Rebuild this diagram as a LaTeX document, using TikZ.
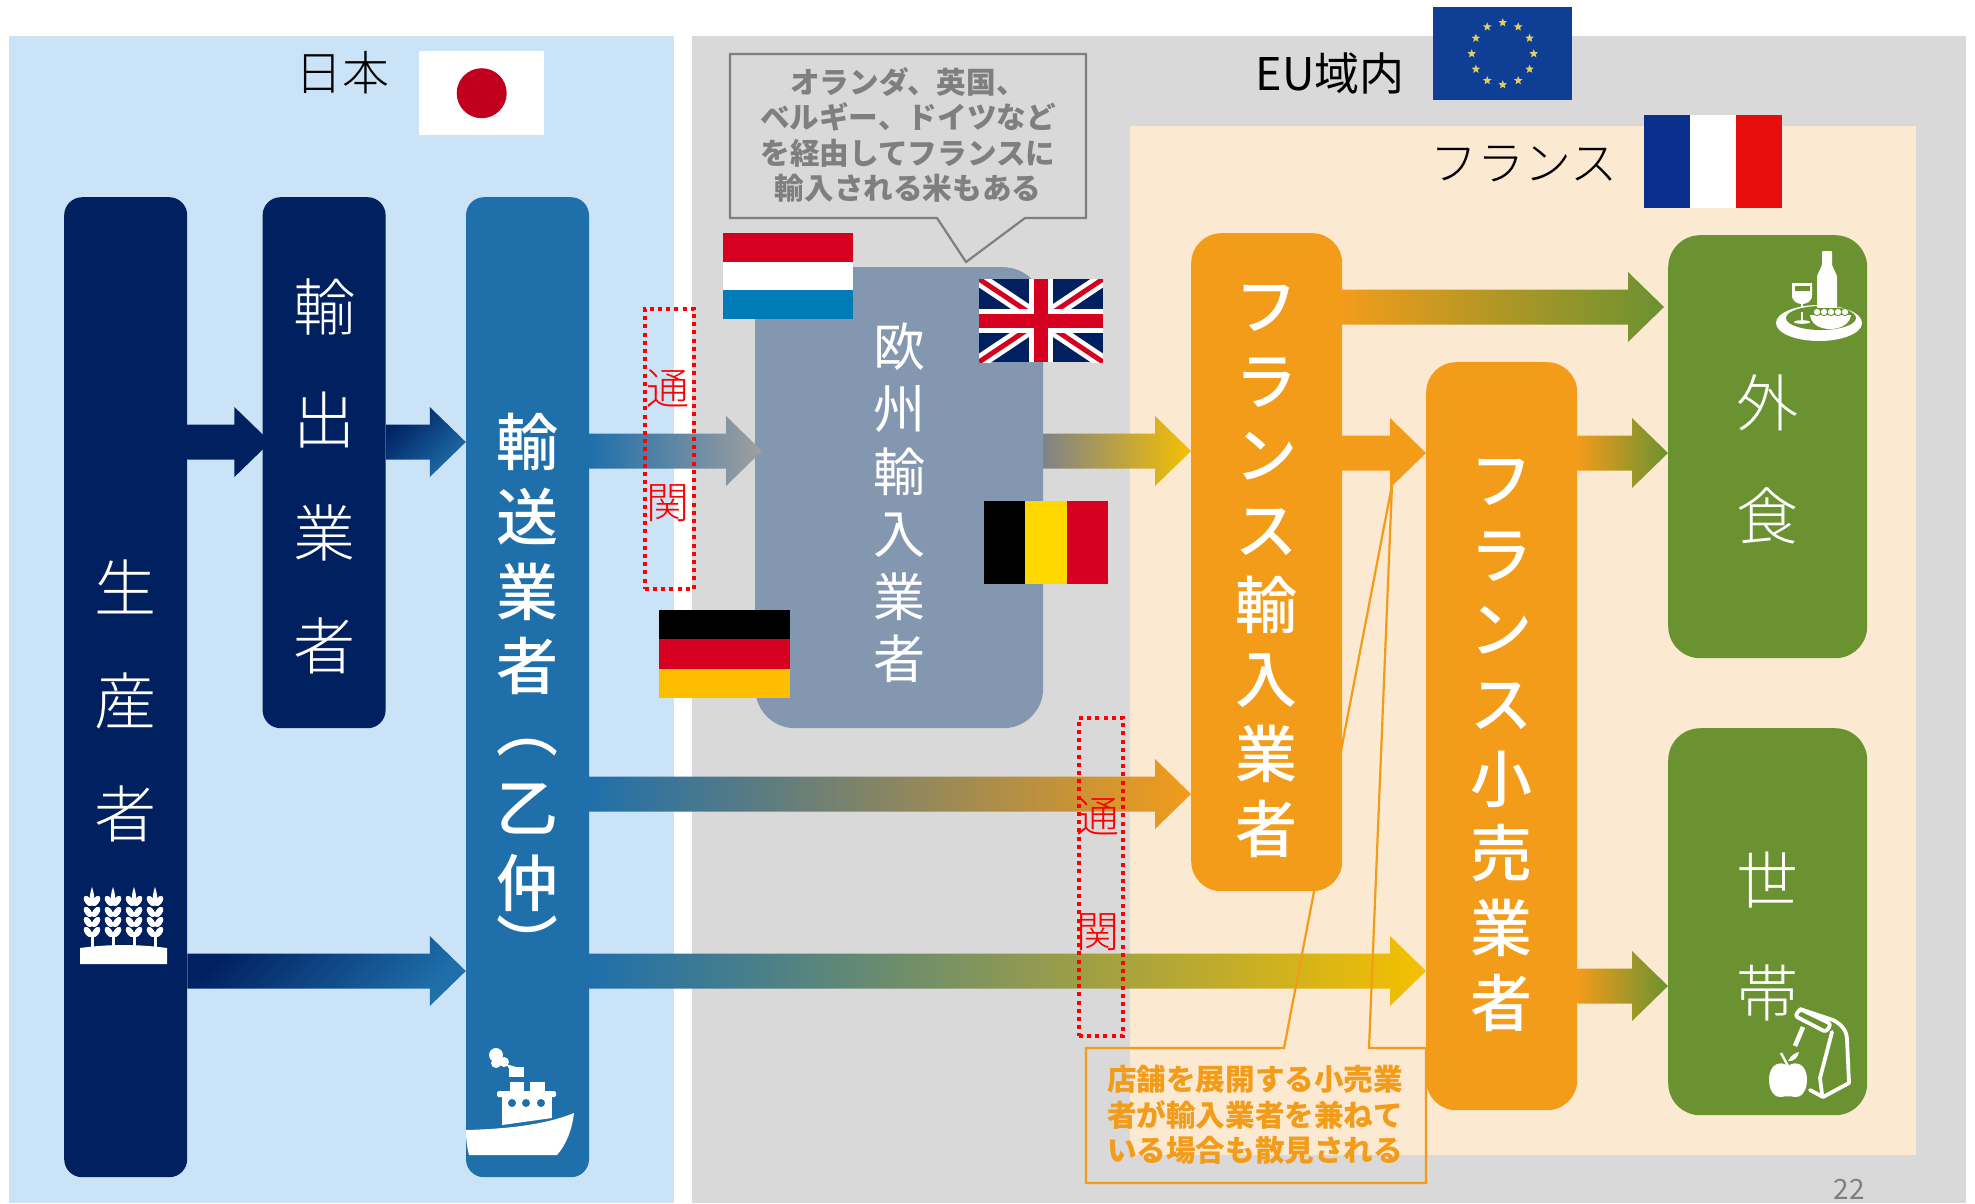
\documentclass[tikz,border=0pt]{standalone}
\usepackage{fontspec}
\setmainfont{Noto Sans CJK JP}
\newfontfamily\lightFont{Noto Sans CJK JP Light}
\newfontfamily\mediumFont{Noto Sans CJK JP Medium}
\usepackage{xcolor}
\definecolor{japanBg}{HTML}{CBE3F6}
\definecolor{euBg}{HTML}{D9D9D9}
\definecolor{franceBg}{HTML}{FCE9D2}
\definecolor{navyDark}{HTML}{002060}
\definecolor{seaBlue}{HTML}{1F6FAB}
\definecolor{slateBlue}{HTML}{8497B0}
\definecolor{orangeMain}{HTML}{F29C1A}
\definecolor{yellowEnd}{HTML}{F5C000}
\definecolor{greenMain}{HTML}{6A9231}
\definecolor{noteGrey}{HTML}{7F7F7F}
\definecolor{flagRed}{HTML}{D60021}
\definecolor{flagBlue}{HTML}{0A2F8C}
\definecolor{flagGold}{HTML}{FFD800}
\definecolor{flagSky}{HTML}{007BB8}
\definecolor{flagEuBlue}{HTML}{0F3F94}
\definecolor{flagStar}{HTML}{E0CE60}
\usetikzlibrary{shapes,arrows,positioning,calc,arrows.meta,shapes.misc,shapes.geometric}
\pgfdeclarelayer{back}
\pgfsetlayers{back,main}
\tikzset{%
  barBox/.style={%
    rectangle,
    rounded corners=18pt,
    inner sep=0pt,
    minimum width=123pt,
    anchor=north west
  },
  tateLight/.style={%
    text=white,
    align=center,
    inner sep=0pt,
    font=\lightFont\fontsize{62}{113}\selectfont
  },
  tateWide/.style={%
    text=white,
    align=center,
    inner sep=0pt,
    font=\mediumFont\fontsize{62}{74.7}\selectfont
  },
  customsBox/.style={%
    rectangle,
    draw=red,
    dash pattern=on 4pt off 4.2pt,
    line width=3.6pt,
    inner sep=0pt,
    anchor=north west
  },
  customsText/.style={%
    text=red,
    inner sep=0pt,
    font=\lightFont\fontsize{43}{43}\selectfont
  },
  noteText/.style={%
    align=center,
    inner sep=0pt,
    font=\bfseries\fontsize{29.6}{35.4}\selectfont
  },
  areaTitle/.style={%
    inner sep=0pt,
    font=\lightFont\fontsize{47}{47}\selectfont
  },
  flagBox/.style={%
    rectangle,
    inner sep=0pt,
    anchor=north west
  },
  tipShift/.store in=\tipShift,
  arrowShade/.style={}
}
% fat arrow from one box to the next at height #4
\newcommand{\flowArrow}[6][]{%
  \begin{scope}[tipShift=0, #1]
    \coordinate (arrowS) at (#2.east |- 0,#4);
    \coordinate (arrowE) at ($(#3.west |- 0,#4)+(\tipShift,0)$);
    \shade[left color=#5, right color=#6, arrowShade]
      ($(arrowS)+(0,-17.5)$) -- ($(arrowE)+(-36,-17.5)$) -- ($(arrowE)+(-36,-35)$)
      -- (arrowE) -- ($(arrowE)+(-36,35)$) -- ($(arrowE)+(-36,17.5)$)
      -- ($(arrowS)+(0,17.5)$) -- cycle;
  \end{scope}
}
\begin{document}
\begin{tikzpicture}[x=1pt,y=-1pt]
  \useasboundingbox (0,0) rectangle (1975,1203);

  % boxes
  \node[barBox, fill=navyDark, minimum height=980pt] (producer) at (64,197) {};
  \node[barBox, fill=navyDark, minimum height=531pt, right=75pt of producer.north east, anchor=north west] (exporter) {};
  \node[barBox, fill=seaBlue, minimum height=980pt, right=80pt of exporter.north east, anchor=north west] (forwarder) {};
  \node[barBox, fill=slateBlue, rounded corners=40pt, minimum width=288pt, minimum height=461pt] (euImporter) at (755,267) {};
  \node[barBox, fill=orangeMain, rounded corners=30pt, minimum width=151pt, minimum height=658pt] (frImporter) at (1191,233) {};
  \node[barBox, fill=orangeMain, rounded corners=30pt, minimum width=151pt, minimum height=748pt] (frRetailer) at (1426,362) {};
  \node[barBox, fill=greenMain, rounded corners=32pt, minimum width=199pt, minimum height=423pt] (dining) at (1668,235) {};
  \node[barBox, fill=greenMain, rounded corners=32pt, minimum width=199pt, minimum height=387pt] (household) at (1668,728) {};

  % box texts
  \node[tateLight] (producerText) at ([yshift=-14pt]producer.center) {生\\産\\者};
  \node[tateLight] (exporterText) at ([yshift=-14pt]exporter.center) {輸\\出\\業\\者};
  \node[tateWide] (forwarderText) at ([yshift=-3.2pt]forwarder.center) {輸\\送\\業\\者\\[-13pt]︵\\[5.3pt]乙\\仲\\[-13.5pt]︶};
  \node[text=white, align=center, inner sep=0pt, font=\fontsize{52}{62.5}\selectfont] (euImporterText) at ([yshift=-5pt]euImporter.center) {欧\\州\\輸\\入\\業\\者};
  \node[tateWide] (frImporterText) at ([yshift=-9pt]frImporter.center) {フ\\ラ\\ン\\ス\\輸\\入\\業\\者};
  \node[tateWide] (frRetailerText) at ([yshift=-9pt]frRetailer.center) {フ\\ラ\\ン\\ス\\小\\売\\業\\者};
  \node[tateLight] (diningText) at ([yshift=-13pt]dining.center) {外\\食};
  \node[tateLight] (householdText) at ([yshift=-15pt]household.center) {世\\帯};

  \begin{pgfonlayer}{back}
    % areas
    \fill[white] (0,0) rectangle (1975,1203);
    \fill[japanBg] (9,36) rectangle (674,1203);
    \fill[euBg] (692,36) rectangle (1966,1203);
    \fill[franceBg] (1130,126) rectangle (1916,1155);
    \flowArrow{forwarder}{frRetailer}{971}{seaBlue}{yellowEnd}
    % orange note, its wedge runs behind the importer box
    \draw[orangeMain, line width=2.2pt] (1086,1048) -- (1284,1048) -- (1392,485) -- (1369,1048)
      -- (1426,1048) -- (1426,1183) -- (1086,1183) -- cycle;
  \end{pgfonlayer}
  \node[noteText, text=orangeMain] (retailNote) at (1255,1115) {店舗を展開する小売業\\者が輸入業者を兼ねて\\いる場合も散見される};

  % arrows
  \flowArrow[tipShift=8]{producer}{exporter}{442}{navyDark}{navyDark}
  \flowArrow[arrowShade/.style={shading angle=45}]{exporter}{forwarder}{442}{navyDark}{seaBlue}
  \flowArrow[tipShift=7]{forwarder}{euImporter}{451}{seaBlue}{gray!75}
  \flowArrow{euImporter}{frImporter}{451}{gray!85!slateBlue}{yellowEnd}
  \flowArrow{forwarder}{frImporter}{794}{seaBlue}{orangeMain}
  \flowArrow[arrowShade/.style={shading angle=45}]{producer}{forwarder}{971}{navyDark}{seaBlue}
  \flowArrow[tipShift=-4]{frImporter}{dining}{307}{orangeMain}{greenMain}
  \flowArrow{frImporter}{frRetailer}{453}{orangeMain}{orangeMain}
  \flowArrow{frRetailer}{dining}{453}{orangeMain}{greenMain}
  \flowArrow{frRetailer}{household}{986}{orangeMain}{greenMain}

  % customs
  \node[customsBox, minimum width=49pt, minimum height=280pt] (customsA) at (643,307) {};
  \node[customsBox, minimum width=44pt, minimum height=318pt] (customsB) at (1077,716) {};
  \node[customsText] (customsAa) at (668,388) {通};
  \node[customsText] (customsAb) at (668,503) {関};
  \node[customsText] (customsBa) at (1098,816) {通};
  \node[customsText] (customsBb) at (1098,932) {関};

  % grey note
  \draw[noteGrey, fill=euBg, line width=2.2pt] (730,54) -- (1086,54) -- (1086,218) -- (1025,218)
    -- (966,262) -- (937,218) -- (730,218) -- cycle;
  \node[noteText, text=noteGrey] (routeNote) at (908,135) {オランダ、英国、\\ベルギー、ドイツなど\\を経由してフランスに\\輸入される米もある};

  % titles
  \node[areaTitle] (japanTitle) at (342,73) {日本};
  \node[areaTitle, font=\fontsize{45}{45}\selectfont] (euTitle) at (1330,73) {EU域内};
  \node[areaTitle] (franceTitle) at (1524,164) {フランス};
  \node[inner sep=0pt, text=gray, font=\fontsize{28}{28}\selectfont] (pageNo) at (1849,1189) {22};

  % flags
  \node[flagBox, fill=white, minimum width=125pt, minimum height=84pt] (flagJapan) at (419,51) {};
  \fill[flagRed!90!black] (flagJapan.center) circle (25);
  \node[flagBox, fill=flagEuBlue, minimum width=139pt, minimum height=93pt] (flagEu) at (1433,7) {};
  \foreach \a in {0,30,...,330}
    \node[star, star points=5, star point ratio=2.3, fill=flagStar, inner sep=0pt, minimum size=9pt] at ($(flagEu.center)+(\a:31)$) {};
  \node[flagBox, fill=white, minimum width=138pt, minimum height=93pt] (flagFrance) at (1644,115) {};
  \fill[flagBlue] (1644,115) rectangle (1690,208);
  \fill[red!90!black!95] (1736,115) rectangle (1782,208);
  \node[flagBox, fill=white, minimum width=130pt, minimum height=86pt] (flagDutch) at (723,233) {};
  \fill[flagRed] (723,233) rectangle (853,262);
  \fill[flagSky] (723,290) rectangle (853,319);
  \node[flagBox, fill=navyDark, minimum width=124pt, minimum height=83pt] (flagUk) at (979,279) {};
  \begin{scope}
    \clip (979,279) rectangle (1103,362);
    \draw[white, line width=14pt] (979,279) -- (1103,362) (979,362) -- (1103,279);
    \draw[flagRed, line width=5pt] (979,279) -- (1103,362) (979,362) -- (1103,279);
    \draw[white, line width=24pt] (1041,279) -- (1041,362) (979,320.5) -- (1103,320.5);
    \draw[flagRed, line width=14pt] (1041,279) -- (1041,362) (979,320.5) -- (1103,320.5);
  \end{scope}
  \node[flagBox, fill=flagGold, minimum width=124pt, minimum height=83pt] (flagBelgium) at (984,501) {};
  \fill[black] (984,501) rectangle (1025,584);
  \fill[flagRed] (1067,501) rectangle (1108,584);
  \node[flagBox, fill=flagRed, minimum width=131pt, minimum height=88pt] (flagGermany) at (659,610) {};
  \fill[black] (659,610) rectangle (790,639);
  \fill[flagGold!70!orange] (659,669) rectangle (790,698);

  % wheat
  \fill[white] (80,964) -- (80,948) .. controls (110,944) and (137,944) .. (167,948) -- (167,964) -- cycle;
  \foreach \sx in {92,113,134,155} {
    \fill[white] (\sx-1.5,935) rectangle (\sx+1.5,950);
    \fill[white] (\sx,887) .. controls (\sx+3,896) and (\sx+3,903) .. (\sx,906) .. controls (\sx-3,903) and (\sx-3,896) .. (\sx,887);
    \foreach \ly in {901,912,922,932} {
      \fill[white, rotate around={-35:(\sx+4,\ly)}] (\sx+4,\ly) ellipse (3.2 and 6);
      \fill[white, rotate around={35:(\sx-4,\ly)}] (\sx-4,\ly) ellipse (3.2 and 6);
    }
  }

  % ship
  \fill[white] (466,1130) .. controls (505,1129) and (545,1125) .. (574,1113)
    .. controls (572,1130) and (566,1145) .. (557,1155) -- (469,1155) .. controls (467,1147) and (466,1140) .. cycle;
  \fill[white] (502,1097) rectangle (552,1118);
  \fill[white] (502,1118) -- (552,1118) -- (502,1125) -- cycle;
  \fill[white, rounded corners=1.5pt] (497,1091) rectangle (556,1097);
  \fill[white] (510,1082) rectangle (524,1091);
  \fill[white] (530,1082) rectangle (545,1091);
  \fill[white] (509,1067) rectangle (524,1077);
  \fill[white] (496,1055) circle (7);
  \fill[white] (504,1062) circle (5);
  \fill[white] (496,1063) circle (5);
  \fill[white] (506,1064) -- (516,1067) -- (510,1070) -- cycle;
  \foreach \px in {512,526,541} \fill[seaBlue] (\px,1103) circle (4);

  % tableware
  \fill[white, rounded corners=1pt] (1817,307) -- (1817,276) -- (1822,265) -- (1822,251) -- (1832,251)
    -- (1832,265) -- (1837,276) -- (1837,307) -- cycle;
  \fill[white] (1792,283) -- (1812,283) -- (1812,295) .. controls (1812,302) and (1806,304) .. (1802,304)
    .. controls (1798,304) and (1792,302) .. (1792,295) -- cycle;
  \fill[greenMain] (1794.5,286) rectangle (1809.5,291);
  \fill[white] (1801,304) rectangle (1803,312);
  \fill[white] (1819,323) ellipse (43 and 18);
  \fill[greenMain] (1821,318) ellipse (35 and 12);
  \fill[white] (1801,312) rectangle (1803,320);
  \fill[white] (1802,322) ellipse (8 and 1.8);
  \fill[white] (1817,300) rectangle (1837,308);
  \fill[white] (1810,315) -- (1851,315) .. controls (1850,323) and (1842,329) .. (1830,329)
    .. controls (1818,329) and (1811,323) .. (1810,315) -- cycle;
  \foreach \bx in {1817,1824,1831,1838,1845} {
    \fill[greenMain] (\bx,312) circle (4.2);
    \fill[white] (\bx,312) circle (3.1);
  }

  % bag and apple
  \begin{scope}[white, line width=3.8pt, line join=round, line cap=round]
    \draw[rounded corners=3pt] (1800,1009) -- (1831,1024) -- (1826,1032) -- (1795,1016) -- cycle;
    \draw (1800,1009) -- (1833,1020) .. controls (1843,1025) and (1847,1032) .. (1847,1040) -- (1849,1083) -- (1823,1097) -- (1810,1090);
    \draw[line width=4.6pt, line cap=butt] (1803,1027) -- (1795,1046);
    \draw (1832,1032) -- (1820,1078) -- (1822,1094);
  \end{scope}
  \fill[white] (1788,1066) .. controls (1780,1060) and (1769,1064) .. (1769,1080)
    .. controls (1769,1092) and (1776,1098) .. (1781,1097) .. controls (1785,1096) and (1791,1096) .. (1795,1097)
    .. controls (1800,1098) and (1807,1092) .. (1807,1080) .. controls (1807,1064) and (1796,1060) .. (1788,1066) -- cycle;
  \draw[white, line width=2.4pt] (1788,1066) -- (1781,1053);
  \fill[white] (1788,1061) .. controls (1791,1055) and (1795,1053) .. (1799,1052) .. controls (1798,1057) and (1794,1062) .. (1788,1061) -- cycle;
\end{tikzpicture}
\end{document}
